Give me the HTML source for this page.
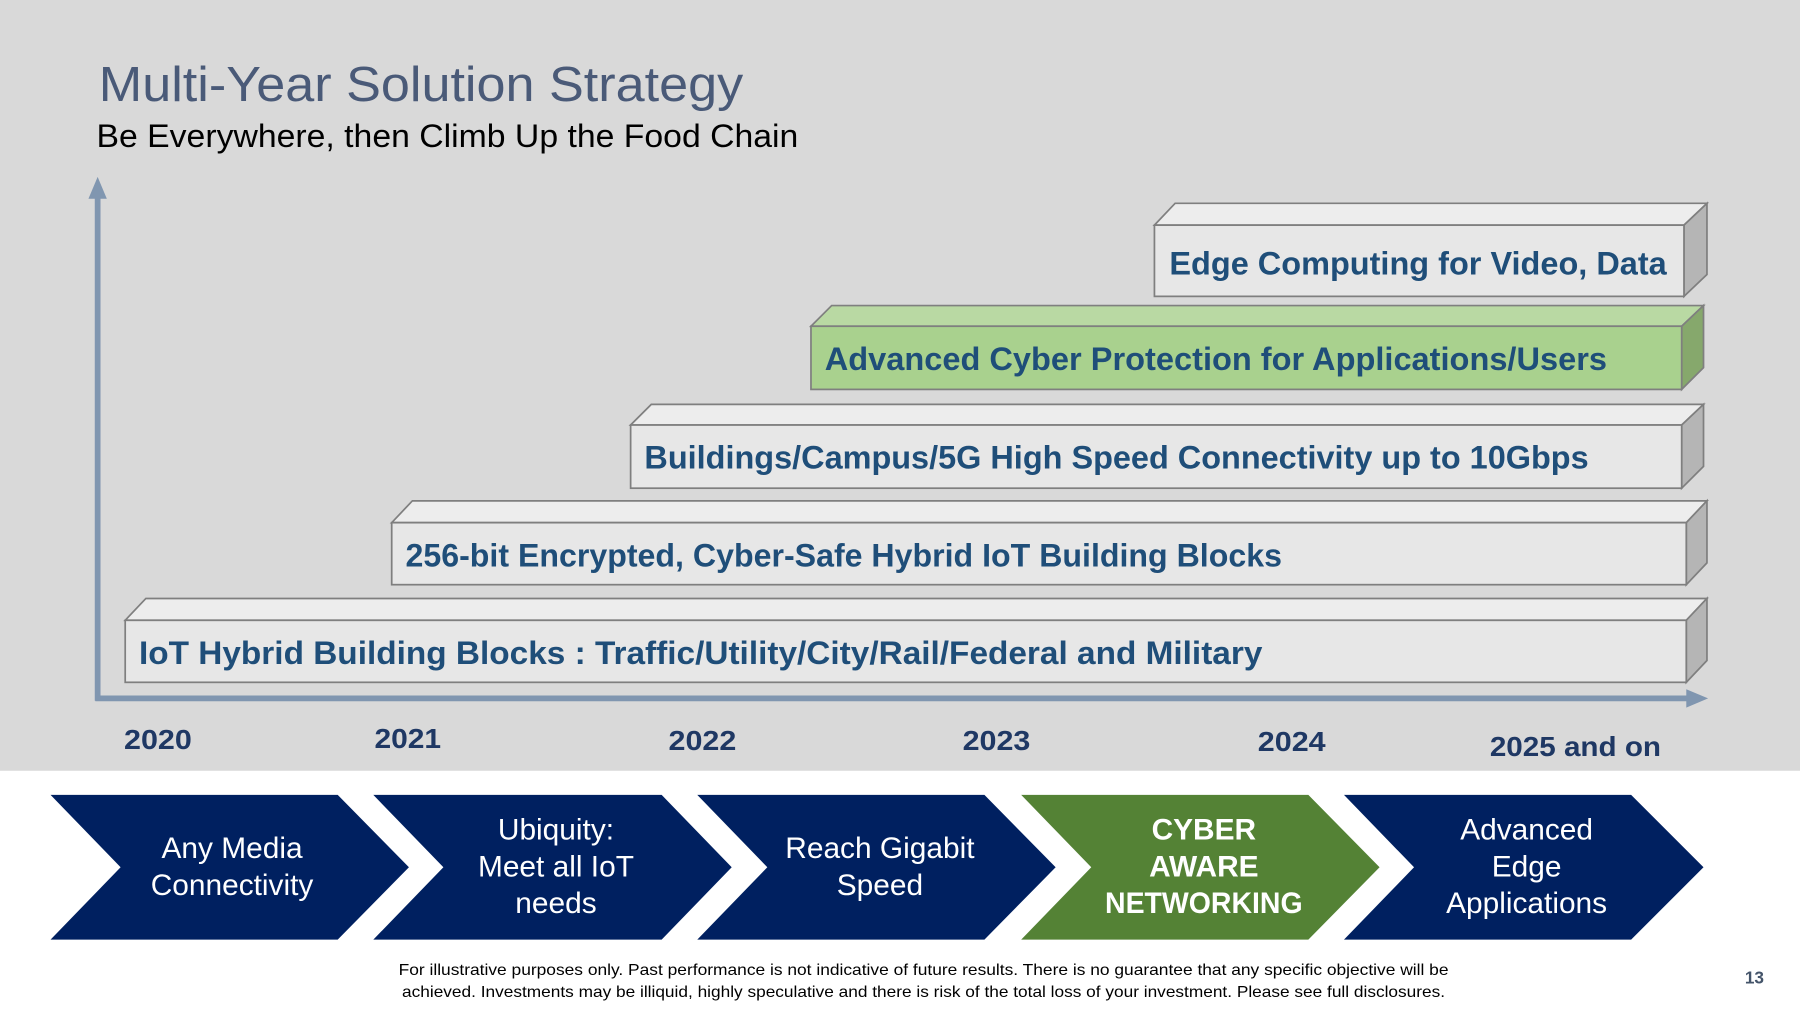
<!DOCTYPE html>
<html><head><meta charset="utf-8"><style>
html,body{margin:0;padding:0;width:1800px;height:1012px;overflow:hidden;background:#fff}
svg{display:block}
text{font-family:"Liberation Sans",sans-serif}
</style></head><body>
<svg width="1800" height="1012" viewBox="0 0 1567 881" xmlns="http://www.w3.org/2000/svg">
<rect x="0" y="0" width="1567" height="671" fill="#d9d9d9"/>
<text x="86" y="88" font-size="43" fill="#4a5a78" textLength="561" lengthAdjust="spacingAndGlyphs">Multi-Year Solution Strategy</text>
<text x="84" y="128" font-size="28" fill="#000" textLength="611" lengthAdjust="spacingAndGlyphs">Be Everywhere, then Climb Up the Food Chain</text>
<line x1="85" y1="170" x2="85" y2="610" stroke="#8096b0" stroke-width="5"/>
<polygon points="85,154 77,173 93,173" fill="#8096b0"/>
<line x1="83" y1="608" x2="1470" y2="608" stroke="#8096b0" stroke-width="5"/>
<polygon points="1487,608 1468,600 1468,616" fill="#8096b0"/>
<g stroke="#7f7f7f" stroke-width="1.5">
<polygon points="109,540 127,521 1486,521 1468,540" fill="#ededed"/>
<polygon points="1468,540 1486,521 1486,575 1468,594" fill="#b5b5b5"/>
<rect x="109" y="540" width="1359" height="54" fill="#e7e7e7"/>
<polygon points="341,455 359,436 1486,436 1468,455" fill="#ededed"/>
<polygon points="1468,455 1486,436 1486,490 1468,509" fill="#b5b5b5"/>
<rect x="341" y="455" width="1127" height="54" fill="#e7e7e7"/>
<polygon points="549,370 567,352 1483,352 1464,370" fill="#ededed"/>
<polygon points="1464,370 1483,352 1483,406 1464,425" fill="#b5b5b5"/>
<rect x="549" y="370" width="915" height="55" fill="#e7e7e7"/>
<polygon points="706,284 724,266 1483,266 1464,284" fill="#b9d9a3"/>
<polygon points="1464,284 1483,266 1483,320 1464,339" fill="#86a86c"/>
<rect x="706" y="284" width="758" height="55" fill="#a9d18e"/>
<polygon points="1005,196 1023,177 1486,177 1466,196" fill="#ededed"/>
<polygon points="1466,196 1486,177 1486,239 1466,258" fill="#b5b5b5"/>
<rect x="1005" y="196" width="461" height="62" fill="#e7e7e7"/>
</g>
<g font-size="28" font-weight="bold" fill="#1f4e79">
<text x="121" y="578" textLength="978" lengthAdjust="spacingAndGlyphs">IoT Hybrid Building Blocks : Traffic/Utility/City/Rail/Federal and Military</text>
<text x="353" y="493" textLength="763" lengthAdjust="spacingAndGlyphs">256-bit Encrypted, Cyber-Safe Hybrid IoT Building Blocks</text>
<text x="561" y="408" textLength="822" lengthAdjust="spacingAndGlyphs">Buildings/Campus/5G High Speed Connectivity up to 10Gbps</text>
<text x="718" y="322" textLength="681" lengthAdjust="spacingAndGlyphs">Advanced Cyber Protection for Applications/Users</text>
<text x="1018" y="239" textLength="433" lengthAdjust="spacingAndGlyphs">Edge Computing for Video, Data</text>
</g>
<g font-size="24" font-weight="bold" fill="#1f3864">
<text x="108" y="652" textLength="59" lengthAdjust="spacingAndGlyphs">2020</text>
<text x="326" y="651" textLength="58" lengthAdjust="spacingAndGlyphs">2021</text>
<text x="582" y="653" textLength="59" lengthAdjust="spacingAndGlyphs">2022</text>
<text x="838" y="653" textLength="59" lengthAdjust="spacingAndGlyphs">2023</text>
<text x="1095" y="654" textLength="59" lengthAdjust="spacingAndGlyphs">2024</text>
<text x="1297" y="658" textLength="149" lengthAdjust="spacingAndGlyphs">2025 and on</text>
</g>
<polygon points="44,692 294,692 356,755 294,818 44,818 105,755" fill="#002060"/>
<polygon points="325,692 576,692 637,755 576,818 325,818 386,755" fill="#002060"/>
<polygon points="607,692 857,692 919,755 857,818 607,818 668,755" fill="#002060"/>
<polygon points="889,692 1139,692 1201,755 1139,818 889,818 950,755" fill="#548235"/>
<polygon points="1170,692 1420,692 1483,755 1420,818 1170,818 1231,755" fill="#002060"/>
<g font-size="26" fill="#fff" text-anchor="middle">
<text x="202" y="747">Any Media</text>
<text x="202" y="779">Connectivity</text>
<text x="484" y="731">Ubiquity:</text>
<text x="484" y="763">Meet all IoT</text>
<text x="484" y="795">needs</text>
<text x="766" y="747">Reach Gigabit</text>
<text x="766" y="779">Speed</text>
<text x="1048" y="731" font-weight="bold">CYBER</text>
<text x="1048" y="763" font-weight="bold">AWARE</text>
<text x="1048" y="795" font-weight="bold" textLength="172" lengthAdjust="spacingAndGlyphs">NETWORKING</text>
<text x="1329" y="731">Advanced</text>
<text x="1329" y="763">Edge</text>
<text x="1329" y="795">Applications</text>
</g>
<g font-size="14" fill="#000">
<text x="347" y="849" textLength="914" lengthAdjust="spacingAndGlyphs">For illustrative purposes only. Past performance is not indicative of future results.  There is no guarantee that any specific objective will be</text>
<text x="350" y="868" textLength="908" lengthAdjust="spacingAndGlyphs">achieved.  Investments may be illiquid, highly speculative and there is risk of the total loss of your investment.  Please see full disclosures.</text>
</g>
<text x="1519" y="856" font-size="15" font-weight="bold" fill="#44546a">13</text>
</svg>
</body></html>
